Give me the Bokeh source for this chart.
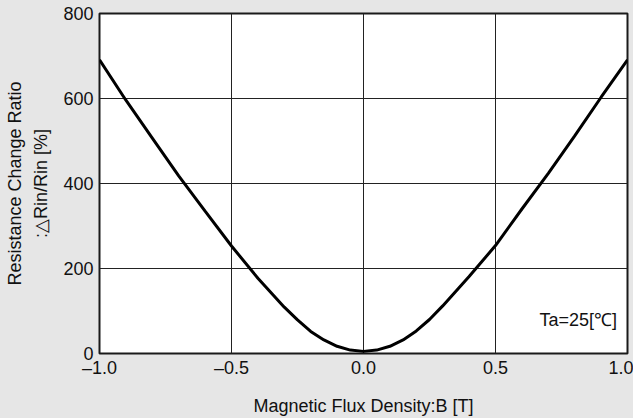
from bokeh.plotting import figure
from bokeh.models import Range1d, FixedTicker, Label
from bokeh.embed import file_html
from bokeh.resources import INLINE

# ---- data ----
flux_density = [-1.0, -0.9, -0.8, -0.7, -0.6, -0.5, -0.4, -0.3, -0.25, -0.2, -0.15, -0.1, -0.05,
                0.0, 0.05, 0.1, 0.15, 0.2, 0.25, 0.3, 0.4, 0.5, 0.6, 0.7, 0.8, 0.9, 1.0]
resistance_change = [691, 596, 507, 418, 335, 253, 177, 109, 79, 52, 32, 17, 8,
                     5, 8, 17, 32, 53, 80, 112, 181, 254, 340, 424, 512, 603, 691]

x_ticks = [-1.0, -0.5, 0.0, 0.5, 1.0]
x_tick_labels = ["\u20131.0", "\u20130.5", "0.0", "0.5", "1.0"]
y_ticks = [0, 200, 400, 600, 800]
y_tick_labels = ["0", "200", "400", "600", "800"]

x_title = "Magnetic Flux Density:B [T]"
y_title = "Resistance Change Ratio\n:\u25b3Rin/Rin [%]"
note_text = "Ta=25[\u2103]"
note_pos = (0.96, 80)

FONT = "Liberation Sans"
BG = "#e6e6e6"

p = figure(width=633, height=418, output_backend="svg", toolbar_location=None,
           x_range=Range1d(-1.0, 1.0), y_range=Range1d(0, 800),
           min_border_left=99, min_border_right=6, min_border_top=13, min_border_bottom=65)

p.border_fill_color = BG
p.background_fill_color = "white"
p.outline_line_color = "#1a1a1a"
p.outline_line_width = 2

p.line(flux_density, resistance_change, line_color="black", line_width=3)

p.xaxis.ticker = FixedTicker(ticks=x_ticks)
p.yaxis.ticker = FixedTicker(ticks=y_ticks)
p.xaxis.major_label_overrides = {t: l for t, l in zip(x_ticks, x_tick_labels)}
p.yaxis.major_label_overrides = {t: l for t, l in zip(y_ticks, y_tick_labels)}

for ax in (p.xaxis, p.yaxis):
    ax.axis_line_color = None
    ax.major_tick_line_color = None
    ax.minor_tick_line_color = None
    ax.major_tick_out = 0
    ax.major_tick_in = 0
    ax.major_label_text_font = FONT
    ax.major_label_text_font_size = "18px"
    ax.major_label_text_color = "#111111"
    ax.axis_label_text_font = FONT
    ax.axis_label_text_font_size = "18px"
    ax.axis_label_text_font_style = "normal"
    ax.axis_label_text_color = "#111111"

p.xaxis.major_label_standoff = 4
p.yaxis.major_label_standoff = 6
p.xaxis.axis_label = x_title
p.yaxis.axis_label = y_title
p.xaxis.axis_label_standoff = 15
p.yaxis.axis_label_standoff = 9
p.yaxis.axis_label_text_line_height = 1.3

p.xgrid.ticker = FixedTicker(ticks=x_ticks)
p.ygrid.ticker = FixedTicker(ticks=y_ticks)
for g in (p.xgrid, p.ygrid):
    g.grid_line_color = "#222222"
    g.grid_line_width = 1

p.add_layout(Label(x=note_pos[0], y=note_pos[1], text=note_text, text_align="right",
                   text_baseline="alphabetic", text_font=FONT, text_font_size="18px",
                   text_color="#111111"))

html = file_html(p, INLINE)
html = html.replace("</head>", "<style>html,body{margin:0;padding:0;background:%s;overflow:hidden}</style></head>" % BG)
open("out.html", "w").write(html)
